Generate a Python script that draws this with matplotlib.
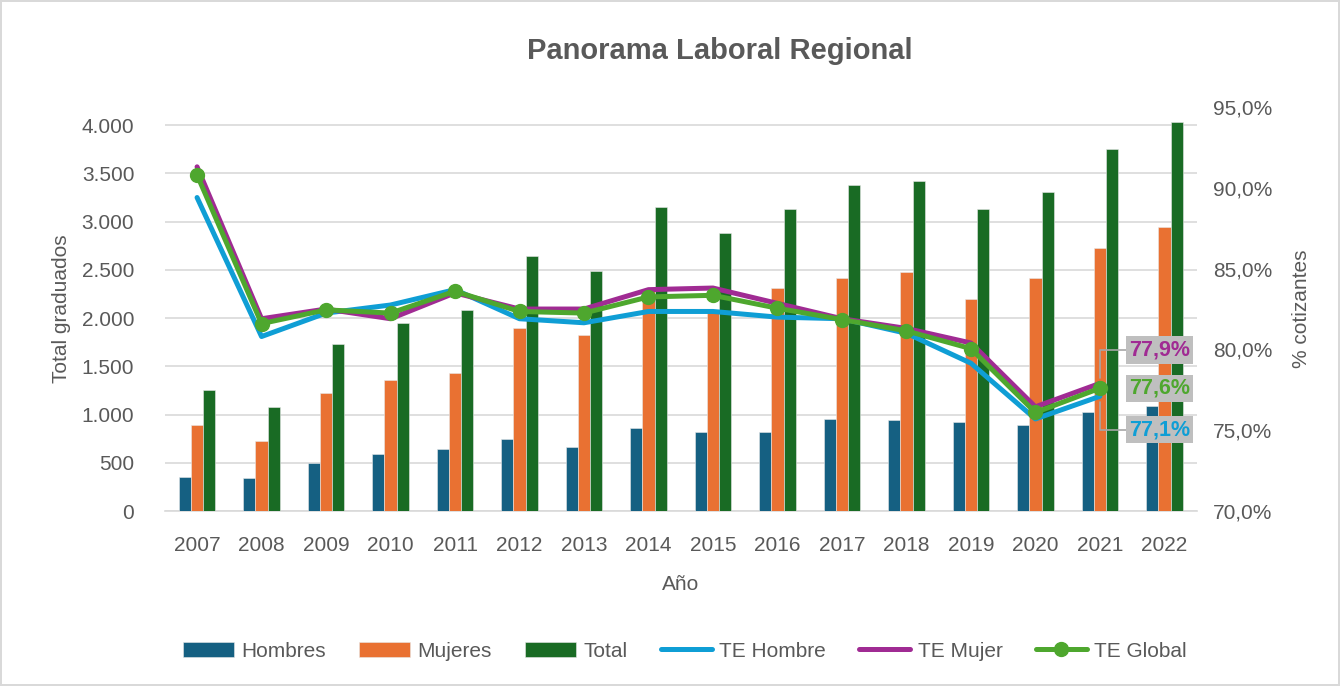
import numpy as np
import matplotlib
matplotlib.use("Agg")
import matplotlib.pyplot as plt
from matplotlib.ticker import FuncFormatter

plt.rcParams['font.family'] = ['Liberation Sans', 'DejaVu Sans']

# data
years = [str(y) for y in range(2007, 2023)]
hombres = [356, 345, 494, 587, 642, 746, 660, 864, 819, 822, 957, 943, 919, 888, 1022, 1088]
mujeres = [891, 725, 1226, 1354, 1430, 1893, 1824, 2290, 2062, 2307, 2418, 2473, 2197, 2414, 2725, 2940]
total = [1250, 1078, 1727, 1945, 2079, 2646, 2487, 3154, 2881, 3133, 3378, 3423, 3126, 3302, 3751, 4028]
te_hombre = [89.4, 80.8, 82.25, 82.75, 83.7, 81.9, 81.65, 82.35, 82.35, 82.0, 81.9, 81.0, 79.15, 75.7, 77.1]
te_mujer = [91.3, 81.9, 82.5, 81.9, 83.5, 82.5, 82.5, 83.7, 83.8, 82.85, 81.9, 81.3, 80.4, 76.45, 77.9]
te_global = [90.8, 81.6, 82.45, 82.25, 83.6, 82.35, 82.25, 83.25, 83.35, 82.55, 81.85, 81.15, 80.05, 76.1, 77.6]

c_h, c_m, c_t = '#156082', '#E97132', '#196B24'
c_teh, c_tem, c_teg = '#0F9ED5', '#A02B93', '#4EA72E'
txt = '#595959'

fig = plt.figure(figsize=(13.4, 6.86), dpi=100, edgecolor='#D9D9D9', linewidth=1.5)
ax = fig.add_axes([0.123, 0.255, 0.770, 0.589])
ax2 = ax.twinx()

x = np.arange(len(years))
w = 0.19
b1 = ax.bar(x - w, hombres, w, color=c_h, edgecolor='#e8e8e8', linewidth=0.4, label='Hombres', zorder=3)
b2 = ax.bar(x, mujeres, w, color=c_m, edgecolor='#e8e8e8', linewidth=0.4, label='Mujeres', zorder=3)
b3 = ax.bar(x + w, total, w, color=c_t, edgecolor='#e8e8e8', linewidth=0.4, label='Total', zorder=3)

xl = x[:len(te_hombre)]
l1, = ax2.plot(xl, te_hombre, color=c_teh, lw=3.6, solid_capstyle='round', label='TE Hombre')
l2, = ax2.plot(xl, te_mujer, color=c_tem, lw=3.6, solid_capstyle='round', label='TE Mujer')
l3, = ax2.plot(xl, te_global, color=c_teg, lw=3.6, marker='o', ms=10, solid_capstyle='round', label='TE Global')

ax.set_xlim(-0.5, len(years) - 0.5)
ax.set_ylim(0, 4187)
ax.set_yticks(np.arange(0, 4001, 500))
ax.yaxis.set_major_formatter(FuncFormatter(lambda v, p: f'{int(v):,}'.replace(',', '.')))
ax2.set_ylim(70, 95)
ax2.set_yticks(np.arange(70, 96, 5))
ax2.yaxis.set_major_formatter(FuncFormatter(lambda v, p: f'{v:.1f}%'.replace('.', ',')))

ax.set_xticks(x)
ax.set_xticklabels(years)
ax.grid(axis='y', color='#D9D9D9', lw=1.2, zorder=0)
ax.set_axisbelow(True)
for a in (ax, ax2):
    for s in a.spines.values():
        s.set_visible(False)
    a.tick_params(length=0, labelsize=15, colors=txt)
ax.tick_params(axis='y', pad=22)
ax.tick_params(axis='x', pad=18)
ax2.tick_params(axis='y', pad=12)
ax.spines['bottom'].set_visible(True)
ax.spines['bottom'].set_color('#D9D9D9')
ax.spines['bottom'].set_linewidth(1.2)

ax.set_xlabel('Año', fontsize=15, color=txt, labelpad=14)
ax.set_ylabel('Total graduados', fontsize=15, color=txt, labelpad=8)
ax2.set_ylabel('% cotizantes', fontsize=15, color=txt, labelpad=14)
fig.text(0.537, 0.925, 'Panorama Laboral Regional', ha='center', va='center',
         fontsize=21, fontweight='bold', color=txt)

# data labels for last point
i = len(te_hombre) - 1
for vals, col, dy in [(te_mujer, c_tem, 24), (te_global, c_teg, 0), (te_hombre, c_teh, -24)]:
    lab = f'{vals[i]:.1f}%'.replace('.', ',')
    ax2.annotate(lab, xy=(xl[i], vals[i]), xycoords='data',
                 xytext=(21, dy), textcoords='offset points',
                 ha='left', va='center', fontsize=15.5, fontweight='bold', color=col,
                 bbox=dict(boxstyle='square,pad=0.15', fc='#BFBFBF', ec='none'),
                 arrowprops=dict(arrowstyle='-', color='#A6A6A6', lw=1.2,
                                 connectionstyle='angle,angleA=0,angleB=90,rad=0',
                                 shrinkA=0, shrinkB=4) if dy != 0 else None)

handles = [b1, b2, b3, l1, l2, l3]
fig.legend(handles, [h.get_label() for h in handles], loc='center', ncol=6,
           bbox_to_anchor=(0.511, 0.051), frameon=False, fontsize=15,
           handlelength=2.45, handletextpad=0.35, columnspacing=1.6, labelcolor=txt)

fig.savefig('out.png', dpi=100, edgecolor=fig.get_edgecolor())
